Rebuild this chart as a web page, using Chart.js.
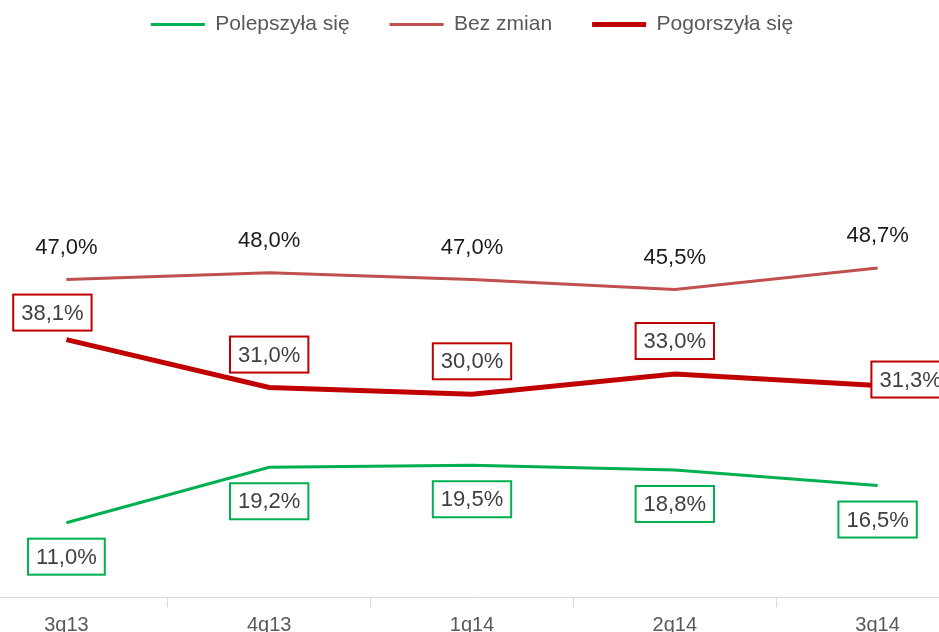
<!DOCTYPE html>
<html>
<head>
<meta charset="utf-8">
<script src="https://cdn.jsdelivr.net/npm/chart.js@4/dist/chart.umd.min.js"></script>
<style>
  html, body { margin: 0; padding: 0; background: #fff; }
  #wrap { position: relative; width: 939px; height: 632px; overflow: hidden; }
  #chart { position: absolute; left: -35px; top: -26px; }
</style>
</head>
<body>
<div id="wrap"><canvas id="chart" width="1014" height="669"></canvas></div>
<script>
var categories = ['3q13', '4q13', '1q14', '2q14', '3q14'];
var improved = [11.0, 19.2, 19.5, 18.8, 16.5];
var unchanged = [47.0, 48.0, 47.0, 45.5, 48.7];
var worsened = [38.1, 31.0, 30.0, 33.0, 31.3];

var fmt = function(v) {
  return v.toFixed(1).replace('.', ',') + '%';
};

// draws the value labels (with or without a frame) next to every point
var valueLabels = {
  id: 'valueLabels',
  afterDatasetsDraw: function(chart) {
    var ctx = chart.ctx;
    ctx.save();
    ctx.font = '22px "Liberation Sans", Arial, sans-serif';
    ctx.textBaseline = 'middle';
    chart.data.datasets.forEach(function(ds, i) {
      var opt = ds.labelOpts;
      var meta = chart.getDatasetMeta(i);
      meta.data.forEach(function(pt, j) {
        var text = fmt(ds.data[j]);
        var off = (opt.offsets && opt.offsets[j]) || [0, opt.dy];
        var w = ctx.measureText(text).width;
        var cx = pt.x + off[0], cy = pt.y + off[1];
        if (opt.box) {
          var bw = w + 16, bh = 36;
          ctx.fillStyle = '#fff';
          ctx.fillRect(cx - bw / 2, cy - bh / 2, bw, bh);
          ctx.lineWidth = 2;
          ctx.strokeStyle = ds.borderColor;
          ctx.strokeRect(cx - bw / 2, cy - bh / 2, bw, bh);
        }
        ctx.fillStyle = opt.color;
        ctx.textAlign = 'center';
        ctx.fillText(text, cx, cy + 1);
      });
    });
    ctx.restore();
  }
};

var font = '"Liberation Sans", Arial, sans-serif';

var ctx = document.getElementById('chart').getContext('2d');
var chart = new Chart(ctx, {
  type: 'line',
  data: {
    labels: categories,
    datasets: [
      {
        label: 'Polepszyła się',
        data: improved,
        borderColor: '#00B050',
        backgroundColor: '#00B050',
        borderWidth: 3,
        labelOpts: { box: true, dy: 34, color: '#404040' }
      },
      {
        label: 'Bez zmian',
        data: unchanged,
        borderColor: '#C0504D',
        backgroundColor: '#C0504D',
        borderWidth: 3,
        labelOpts: { box: false, dy: -33, color: '#1a1a1a' }
      },
      {
        label: 'Pogorszyła się',
        data: worsened,
        borderColor: '#C00000',
        backgroundColor: '#C00000',
        borderWidth: 5,
        labelOpts: { box: true, dy: -33, color: '#404040', offsets: { 0: [-14, -27], 4: [33, -6] } }
      }
    ]
  },
  options: {
    responsive: false,
    animation: false,
    devicePixelRatio: 1,
    elements: {
      point: { radius: 0, hoverRadius: 0 },
      line: { tension: 0, borderCapStyle: 'butt' }
    },
    layout: { padding: 0 },
    plugins: {
      legend: {
        position: 'top',
        labels: {
          usePointStyle: true,
          pointStyle: 'line',
          pointStyleWidth: 54,
          padding: 40,
          color: '#595959',
          font: { family: font, size: 21 }
        }
      },
      tooltip: { enabled: false }
    },
    scales: {
      x: {
        offset: true,
        border: { display: true, color: '#d9d9d9', width: 1 },
        grid: { offset: true, drawOnChartArea: false, drawTicks: true, tickLength: 10, color: '#d9d9d9' },
        ticks: {
          color: '#595959',
          padding: 6,
          font: { family: font, size: 20 }
        }
      },
      y: {
        display: false,
        min: 0,
        max: 81.7
      }
    }
  },
  plugins: [valueLabels]
});
</script>
</body>
</html>
